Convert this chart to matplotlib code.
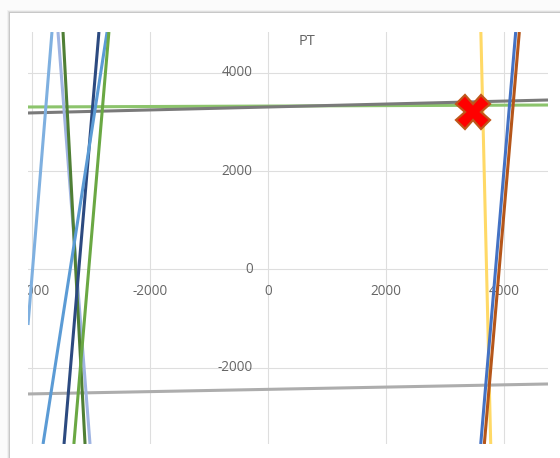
import matplotlib
matplotlib.use("Agg")
import matplotlib.pyplot as plt
from matplotlib.patches import Rectangle

# Each series is a straight segment given by two (x, y) end points.
series_names = ["light_blue_a", "periwinkle", "dark_green", "navy", "green",
                "light_blue_b", "yellow", "blue", "brown",
                "flat_green", "dark_gray", "light_gray"]
x_start = [-3660, -3558, -3473, -2865, -2696, -2727, 3603, 4193, 4254, -4066, -4066, -4066]
y_start = [4827, 4827, 4827, 4827, 4827, 4827, 4827, 4827, 4827, 3303, 3181, -2530]
x_end = [-4066, -3016, -3100, -3456, -3289, -3811, 3770, 3601, 3662, 4740, 4740, 4740]
y_end = [-1128, -3547, -3547, -3547, -3547, -3547, -3547, -3547, -3547, 3343, 3445, -2327]
series_colors = ["#7fb0e0", "#9fb4e2", "#4f7f35", "#2c4a80", "#6aa843",
                 "#5b9bd5", "#ffd966", "#4472c4", "#b5561a",
                 "#8cc46c", "#7a7a7a", "#adadad"]
draw_order = ["light_gray", "flat_green", "dark_gray", "light_blue_a", "periwinkle",
              "dark_green", "navy", "light_blue_b", "green", "yellow", "blue", "brown"]

# Highlighted point
point_x = [3470]
point_y = [3210]

x_ticks = [-4000, -2000, 0, 2000, 4000]
y_ticks = [4000, 2000, 0, -2000]
x_tick_labels = ["-4000", "-2000", "0", "2000", "4000"]
y_tick_labels = ["4000", "2000", "0", "-2000"]
chart_title = "PT"

W, H = 560, 458
fig = plt.figure(figsize=(W / 100, H / 100), dpi=100)
fig.patch.set_facecolor("#fbfbfb")

# card with a soft shadow on the left / top
for i, a in enumerate([0.10, 0.07, 0.04]):
    fig.patches.append(Rectangle(((9 - i) / W, 0), 1, (H - 12 + i) / H,
                                 transform=fig.transFigure, facecolor="#000000",
                                 alpha=a, edgecolor="none", zorder=-3))
fig.patches.append(Rectangle((10 / W, 0), 1, (H - 13) / H, transform=fig.transFigure,
                             facecolor="white", edgecolor="none", zorder=-2))

ax = fig.add_axes([28 / W, (H - 444) / H, 520 / W, 412 / H])
ax.set_zorder(2)
ax.set_facecolor("none")
ax.set_xlim(-4066, 4740)
ax.set_ylim(-3547, 4827)
for s in ax.spines.values():
    s.set_visible(False)
ax.set_xticks([])
ax.set_yticks([])

grid_c = "#dedede"
for v in x_ticks:
    ax.axvline(v, color=grid_c, lw=0.8, zorder=1)
for v in y_ticks:
    ax.axhline(v, color=grid_c, lw=0.8, zorder=1)

lab_c = "#666666"
font = dict(family=["Open Sans", "DejaVu Sans"], fontsize=9.8, color=lab_c)
for v, t in zip(x_ticks, x_tick_labels):
    ax.annotate(t, (v, 0), xytext=(0, -15.5), textcoords="offset points",
                ha="center", va="center", annotation_clip=False, clip_on=True,
                zorder=2, **font)
for v, t in zip(y_ticks, y_tick_labels):
    ax.annotate(t, (0, v), xytext=(-11, 0), textcoords="offset points",
                ha="right", va="center", clip_on=True, zorder=2, **font)

ax.text(0.537, 0.977, chart_title, transform=ax.transAxes, ha="center", va="center",
        family=["Open Sans", "DejaVu Sans"], fontsize=10.5, color=lab_c)

idx = {n: i for i, n in enumerate(series_names)}
for n in draw_order:
    i = idx[n]
    ax.plot([x_start[i], x_end[i]], [y_start[i], y_end[i]], color=series_colors[i],
            lw=2.2, solid_capstyle="butt", zorder=3)

ax.plot(point_x, point_y, linestyle="none", marker="X", markersize=24,
        markerfacecolor="#ff0000", markeredgecolor="#c0561a", markeredgewidth=1.6,
        zorder=5)

fig.savefig("out.png", dpi=100)
